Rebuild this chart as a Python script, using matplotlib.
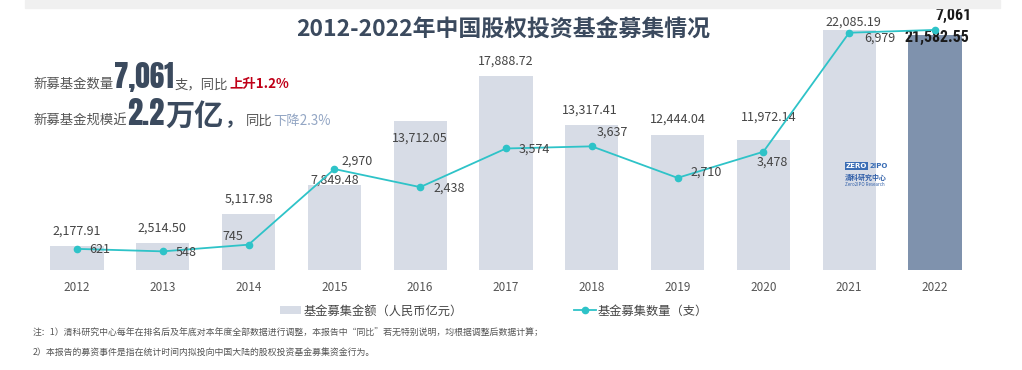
import matplotlib
matplotlib.use("Agg")
import matplotlib.pyplot as plt
from matplotlib.patches import Patch, Rectangle
from matplotlib.lines import Line2D

plt.rcParams['font.family'] = ['Noto Sans CJK SC', 'DejaVu Sans']

# ---------------- data ----------------
years = ['2012', '2013', '2014', '2015', '2016', '2017', '2018', '2019', '2020', '2021', '2022']
amount = [2177.91, 2514.50, 5117.98, 7849.48, 13712.05, 17888.72, 13317.41, 12444.04, 11972.14, 22085.19, 21582.55]
count = [621, 548, 745, 2970, 2438, 3574, 3637, 2710, 3478, 6979, 7061]

title = '2012-2022年中国股权投资基金募集情况'
legend_bar = '基金募集金额（人民币亿元）'
legend_line = '基金募集数量（支）'
note1 = '注：1）清科研究中心每年在排名后及年底对本年度全部数据进行调整，本报告中“同比”若无特别说明，均根据调整后数据计算；'
note2 = '2）本报告的募资事件是指在统计时间内拟投向中国大陆的股权投资基金募集资金行为。'

# ---------------- layout ----------------
W, H = 1022, 370
fig = plt.figure(figsize=(W / 100, H / 100), dpi=100)
fig.patch.set_facecolor('white')

def fx(px):
    return px / W

def fy(py):
    return 1 - py / H

ax = fig.add_axes([fx(20), fy(270), fx(1000) - fx(20), fy(20) - fy(270)])
ax2 = ax.twinx()

x = list(range(len(years)))
bar_light = '#d7dce6'
bar_dark = '#7f92ad'
line_c = '#2ec3c8'
colors = [bar_light] * (len(years) - 1) + [bar_dark]

ax.bar(x, amount, width=0.62, color=colors, zorder=1)
ax.set_xlim(-0.664, 10.758)
ax.set_ylim(0, 23000)
ax2.set_ylim(0, 7353)
ax2.plot(x, count, color=line_c, lw=1.3, marker='o', ms=4.5, zorder=3)

for a in (ax, ax2):
    for s in a.spines.values():
        s.set_visible(False)
    a.set_yticks([])
ax.set_xticks(x)
ax.set_xticklabels(years, fontsize=8.5, color='#555555')
ax.tick_params(axis='x', length=0, pad=8)

narrow = ['Roboto Condensed', 'DejaVu Sans']

# bar value labels (offset in pixels from bar top)
bar_off = [(0, 15), (-1, 15), (0, 15), (0, 5), (0, -17), (0, 14), (-2, 15), (0, 16), (5, 23), (4, 8), (2, -2)]
for i, v in enumerate(amount):
    dx, dy = bar_off[i]
    last = i == len(amount) - 1
    ax.annotate(f'{v:,.2f}', (x[i], v), xytext=(dx, dy), textcoords='offset pixels',
                ha='center', va='center', fontsize=11.5 if last else 9,
                fontweight='bold' if last else 'normal',
                color='#1a1a1a' if last else '#444444', zorder=5,
                family=narrow if last else None)

# line value labels (offset in pixels from point)
line_off = [(23, -1), (23, -1), (-16, 8), (23, 8), (29, -1), (28, -1), (21, 14), (29, 6), (9, -10), (31, -5), (19, 14)]
for i, v in enumerate(count):
    dx, dy = line_off[i]
    last = i == len(count) - 1
    ax2.annotate(f'{v:,}', (x[i], v), xytext=(dx, dy), textcoords='offset pixels',
                 ha='center', va='center', fontsize=11.5 if last else 9,
                 fontweight='bold' if last else 'normal',
                 color='#1a1a1a' if last else '#444444', zorder=5,
                 family=narrow if last else None)

# top band
fig.patches.append(Rectangle((fx(25), fy(8)), fx(1000) - fx(25), fy(0) - fy(8),
                             transform=fig.transFigure, color='#f0f0f0', zorder=0))

# title
fig.text(fx(503), fy(30), title, ha='center', va='center', fontsize=16.5,
         fontweight='bold', color='#3b4a5e')

# left annotation
fig.canvas.draw()
renderer = fig.canvas.get_renderer()

def chain(x0, ybase, pieces):
    xx = x0
    for s, kw in pieces:
        t = fig.text(fx(xx), fy(ybase), s, ha='left', va='baseline', **kw)
        bb = t.get_window_extent(renderer)
        xx += bb.width + 1

gray = '#555555'
dark = '#3b4a5e'
big_fam = ['Anton', 'Noto Sans CJK SC']
chain(33, 88, [
    ('新募基金数量', dict(fontsize=9.6, color=gray)),
    ('7,061', dict(fontsize=21, color=dark, family=big_fam)),
    ('支，同比', dict(fontsize=9.6, color=gray)),
    ('上升1.2%', dict(fontsize=9.6, color='#c00018', fontweight='bold')),
])
chain(33, 125, [
    ('新募基金规模近', dict(fontsize=9.6, color=gray)),
    ('2.2', dict(fontsize=22, color=dark, family=big_fam)),
    ('万亿', dict(fontsize=21, color=dark, fontweight='heavy')),
    ('，', dict(fontsize=14, color=dark, fontweight='bold')),
    ('同比', dict(fontsize=9.6, color=gray)),
    ('下降2.3%', dict(fontsize=9.6, color='#93a6c4')),
])

# legend
handles = [Patch(facecolor=bar_light, edgecolor='none'),
           Line2D([0], [0], color=line_c, lw=1.3, marker='o', ms=4.5)]
fig.legend(handles, [legend_bar, legend_line], loc='center',
           bbox_to_anchor=(fx(494), fy(311)), ncol=2, frameon=False,
           fontsize=8.8, handlelength=1.75, handleheight=0.6, handletextpad=0.2,
           columnspacing=9.1, labelcolor='#444444')

# notes
fig.text(fx(33), fy(333), note1, ha='left', va='center', fontsize=6.4, color='#555555')
fig.text(fx(33), fy(352), note2, ha='left', va='center', fontsize=6.4, color='#555555')

# logo
fig.text(fx(846), fy(166), 'ZERO', ha='left', va='center', fontsize=5, color='white',
         fontweight='bold', family=['DejaVu Sans'],
         bbox=dict(boxstyle='square,pad=0.15', fc='#3a6db5', ec='none'))
fig.text(fx(869), fy(166), '2IPO', ha='left', va='center', fontsize=5, color='#3a6db5',
         fontweight='bold', family=['DejaVu Sans'])
fig.text(fx(845), fy(177), '清科研究中心', ha='left', va='center', fontsize=5,
         color='#2f5ea8', fontweight='bold')
fig.text(fx(845), fy(185), 'Zero2IPO Research', ha='left', va='center', fontsize=3.2,
         color='#2f5ea8')

fig.savefig('out.png', dpi=100)
